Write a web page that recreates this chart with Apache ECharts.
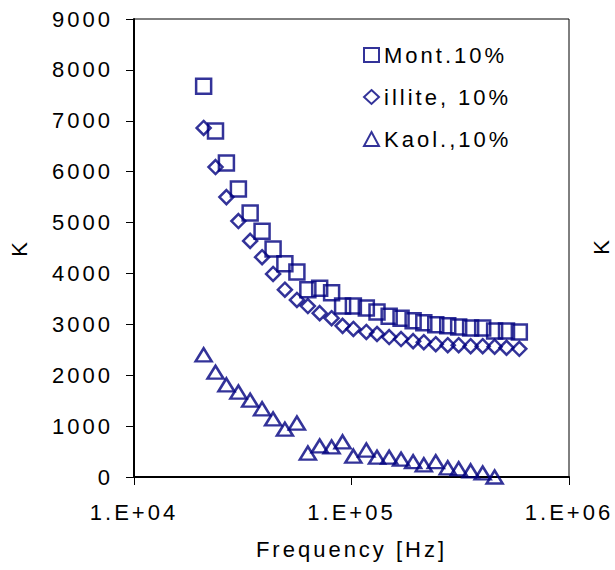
<!DOCTYPE html>
<html>
<head>
<meta charset="utf-8">
<script src="https://cdn.jsdelivr.net/npm/echarts@6/dist/echarts.min.js"></script>
<style>
  html, body { margin: 0; padding: 0; background: #fff; }
  #root { width: 615px; height: 570px; letter-spacing: 3px; }
</style>
</head>
<body>
<div id="root"></div>
<script>
// frequencies [Hz]
const freq = [20900, 23700, 26600, 30200, 34200, 38800, 43600, 49400, 56100, 63000,
  71400, 81000, 91000, 102000, 117000, 131000, 149000, 169000, 192000, 215000,
  244000, 277000, 311000, 353000, 401000, 455000, 516000, 591000];

const mont = [7680, 6800, 6170, 5660, 5190, 4830, 4480, 4190, 4030, 3680,
  3710, 3620, 3360, 3360, 3320, 3240, 3160, 3120, 3070, 3030,
  2990, 2970, 2950, 2930, 2930, 2870, 2870, 2850];

const illite = [6860, 6090, 5500, 5030, 4640, 4320, 3990, 3680, 3480, 3360,
  3220, 3120, 2970, 2910, 2850, 2810, 2750, 2710, 2670, 2650,
  2610, 2590, 2590, 2570, 2570, 2560, 2540, 2520];

const kaol = [2400, 2060, 1810, 1670, 1510, 1340, 1140, 940, 1060, 470,
  610, 590, 690, 410, 530, 390, 390, 350, 300, 240,
  300, 180, 160, 120, 80, 0];

const names = ["Mont.10%", "illite, 10%", "Kaol.,10%"];

const navy = "#000080";
const font = "Liberation Sans";

function pairs(vals) {
  return vals.map((v, i) => [freq[i], v]);
}

var chart = echarts.init(document.getElementById("root"), null, { renderer: "svg" });

var option = {
  animation: false,
  textStyle: { fontFamily: font, color: "#000" },
  grid: {
    left: 131,
    right: 46,
    top: 19,
    bottom: 93,
    show: true,
    borderColor: "#000",
    borderWidth: 1,
  },
  legend: {
    orient: "vertical",
    left: 358,
    top: 39,
    itemWidth: 15,
    itemHeight: 14,
    itemGap: 20,
    textStyle: { fontFamily: font, fontSize: 22, color: "#000" },
    data: names,
  },
  xAxis: {
    type: "log",
    logBase: 10,
    min: 10000,
    max: 1000000,
    name: "Frequency [Hz]",
    nameLocation: "middle",
    nameGap: 61,
    nameTextStyle: { fontFamily: font, fontSize: 22, color: "#000" },
    axisLine: { lineStyle: { color: "#000", width: 2 } },
    axisTick: { show: true, inside: false, length: 8, lineStyle: { color: "#000", width: 1 } },
    minorTick: { show: false },
    splitLine: { show: false },
    axisLabel: {
      fontFamily: font,
      fontSize: 22,
      color: "#000",
      margin: 24,
      formatter: (v) => "1.E+0" + Math.round(Math.log10(v)),
    },
  },
  yAxis: {
    type: "value",
    min: 0,
    max: 9000,
    interval: 1000,
    name: "K",
    nameLocation: "middle",
    nameGap: 104,
    nameTextStyle: { fontFamily: font, fontSize: 22, color: "#000" },
    axisLine: { show: true, lineStyle: { color: "#000", width: 2 } },
    axisTick: { show: true, inside: false, length: 8, lineStyle: { color: "#000", width: 1 } },
    splitLine: { show: false },
    axisLabel: {
      fontFamily: font,
      fontSize: 22,
      color: "#000",
      margin: 21,
      formatter: (v) => String(v),
    },
  },
  graphic: [
    {
      type: "text",
      left: 590,
      top: 240,
      rotation: Math.PI / 2,
      style: { text: "K", fontFamily: font, fontSize: 22, fill: "#000" },
    },
  ],
  series: [
    {
      name: names[0],
      type: "scatter",
      symbol: "rect",
      symbolSize: 15,
      itemStyle: { color: "rgba(0,0,0,0)", borderColor: navy, borderWidth: 2.5 },
      data: pairs(mont),
    },
    {
      name: names[1],
      type: "scatter",
      symbol: "diamond",
      symbolSize: 14,
      itemStyle: { color: "rgba(0,0,0,0)", borderColor: navy, borderWidth: 2.5 },
      data: pairs(illite),
    },
    {
      name: names[2],
      type: "scatter",
      symbol: "triangle",
      symbolSize: [16, 13],
      itemStyle: { color: "rgba(0,0,0,0)", borderColor: navy, borderWidth: 2.5 },
      data: pairs(kaol),
    },
  ],
};

chart.setOption(option);
</script>
</body>
</html>
